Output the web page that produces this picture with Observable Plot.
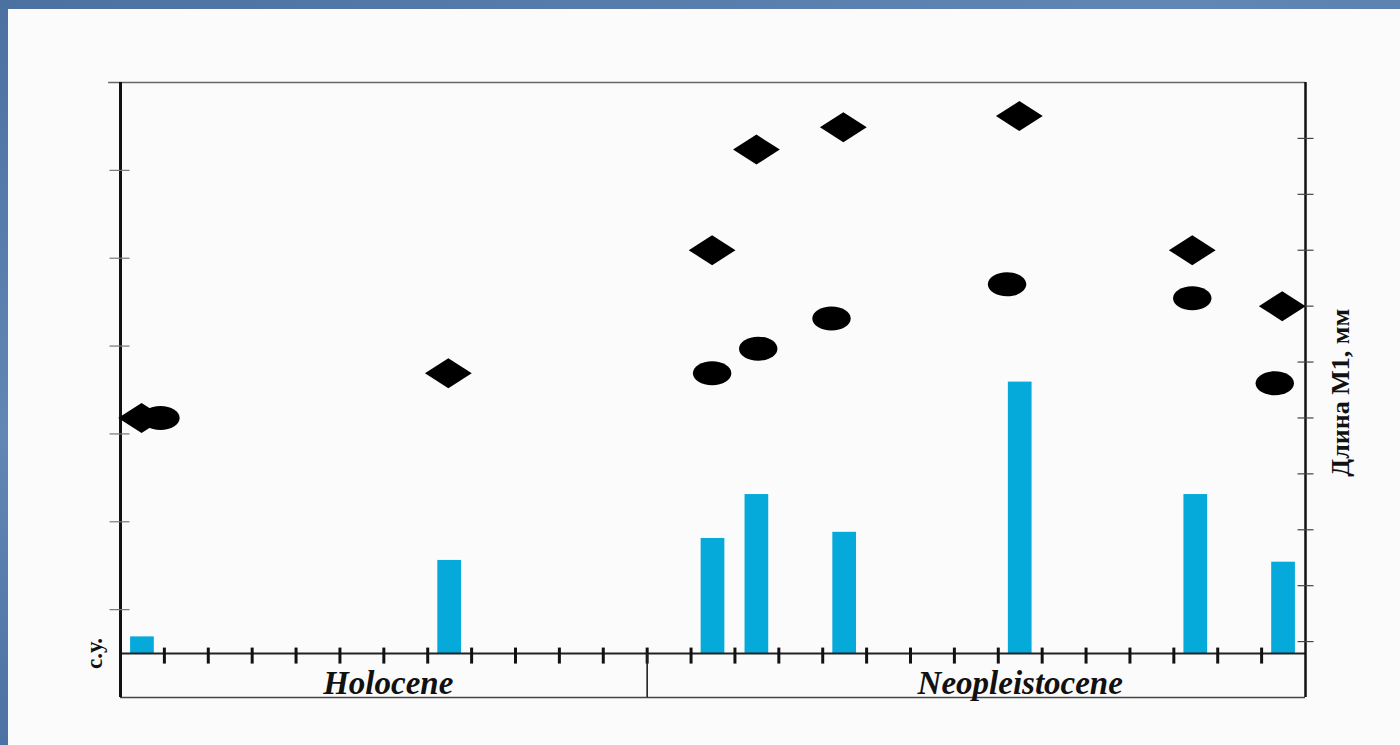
<!DOCTYPE html>
<html>
<head>
<meta charset="utf-8">
<script src="https://cdn.jsdelivr.net/npm/d3@7"></script>
<script src="https://cdn.jsdelivr.net/npm/@observablehq/plot@0.6"></script>
<style>
  html, body { margin: 0; padding: 0; }
  #slide { position: relative; width: 1400px; height: 745px; overflow: hidden;
    background: linear-gradient(160deg, #4a71a0 0%, #6187b5 35%, #4b72a2 60%, #5a80ae 100%); }
  #paper { position: absolute; left: 8px; top: 9px; width: 1400px; height: 745px; background: #fbfbfb; }
  #slide svg { position: absolute; left: 0; top: 0; }
</style>
</head>
<body>
<div id="slide"><div id="paper"></div></div>
<script>
// ---- data ----
const barX = [0.5, 7.5, 13.5, 14.5, 16.5, 20.5, 24.5, 26.5];
const barValues = [0.19, 1.06, 1.31, 1.81, 1.38, 3.09, 1.81, 1.04];          // left axis "с.у."
const diamondX = [0.48, 7.47, 13.48, 14.49, 16.47, 20.48, 24.42, 26.47];
const diamondValues = [5.0, 5.8, 8.0, 9.8, 10.2, 10.4, 8.0, 7.0];           // right axis "Длина М1, мм"
const ellipseX = [0.91, 13.48, 14.53, 16.2, 20.2, 24.42, 26.3];
const ellipseValues = [5.0, 5.8, 6.24, 6.78, 7.39, 7.14, 5.62];
const periodNames = ["Holocene", "Neopleistocene"];
const periodLabelX = [6.1, 20.5];
const periodDivider = [12];
const xTicks = d3.range(1, 27);
const leftTicks = [0.5, 1.5, 2.5, 3.5, 4.5, 5.5];
const rightTicks = d3.range(1, 11);
const leftLabel = "с.у.";
const rightLabel = "Длина М1, мм";

// ---- tables built from the arrays ----
const bars = barX.map((x, i) => ({x, v: barValues[i]}));
const diamonds = diamondX.map((x, i) => ({x, v: diamondValues[i]}));
const ellipses = ellipseX.map((x, i) => ({x, v: ellipseValues[i]}));
const periods = periodNames.map((name, i) => ({name, x: periodLabelX[i]}));

// ---- custom symbols ----
const wideDiamond = {draw(ctx, size) {
  const r = Math.sqrt(size / Math.PI), w = r * 1.95, h = r * 1.25;
  ctx.moveTo(-w, 0); ctx.lineTo(0, -h); ctx.lineTo(w, 0); ctx.lineTo(0, h); ctx.closePath();
}};
const ellipse = {draw(ctx, size) {
  const r = Math.sqrt(size / Math.PI), rx = r * 1.6, ry = r, k = 0.5523;
  ctx.moveTo(rx, 0);
  ctx.bezierCurveTo(rx, ry * k, rx * k, ry, 0, ry);
  ctx.bezierCurveTo(-rx * k, ry, -rx, ry * k, -rx, 0);
  ctx.bezierCurveTo(-rx, -ry * k, -rx * k, -ry, 0, -ry);
  ctx.bezierCurveTo(rx * k, -ry, rx, -ry * k, rx, 0);
  ctx.closePath();
}};
const hLine = {draw(ctx, size) { const r = Math.sqrt(size / Math.PI); ctx.moveTo(-r, 0); ctx.lineTo(r, 0); }};
const vLine = {draw(ctx, size) { const r = Math.sqrt(size / Math.PI); ctx.moveTo(0, -r); ctx.lineTo(0, r); }};

const common = {
  width: 1400, height: 745,
  marginLeft: 120, marginRight: 95, marginTop: 82, marginBottom: 48,
  x: {domain: [0, 27], axis: null},
  style: {background: "transparent", overflow: "visible"}
};
const serif = "'Liberation Serif', 'DejaVu Serif', serif";

// ---- plot 1: bars, left axis, time axis ----
const p1 = Plot.plot({
  ...common,
  y: {domain: [-0.5, 6.5], axis: null},
  marks: [
    Plot.rect(bars, {x1: d => d.x - 0.27, x2: d => d.x + 0.27, y1: 0, y2: "v", fill: "#05a9da"}),
    // top frame line
    Plot.ruleY([6.5], {x1: -0.27, x2: 27, stroke: "#666", strokeWidth: 1.6}),
    // bottom band line
    Plot.ruleY([-0.5], {x1: 0, x2: 27, stroke: "#444", strokeWidth: 1.6}),
    // time axis baseline
    Plot.ruleY([0], {x1: 0, x2: 27, stroke: "#222", strokeWidth: 2}),
    Plot.dot(xTicks, {x: d => d, y: 0, symbol: vLine, r: 8, dy: 2, stroke: "#111", strokeWidth: 3, fill: "none"}),
    // period divider
    Plot.ruleX(periodDivider, {y1: -0.5, y2: 0, stroke: "#222", strokeWidth: 1.6}),
    // left axis
    Plot.ruleX([0], {y1: -0.5, y2: 6.5, stroke: "#111", strokeWidth: 3}),
    Plot.dot(leftTicks, {x: 0, y: d => d, symbol: hLine, r: 10, dx: -1, stroke: "#777", strokeWidth: 1.2, fill: "none"}),
    Plot.text([leftLabel], {frameAnchor: "left", textAnchor: "middle", y: 0, dx: -26, rotate: -90, text: d => d,
      fontSize: 23, fontWeight: "bold", fontFamily: serif, fill: "#111"}),
    Plot.text(periods, {x: "x", y: -0.34, text: "name", fontSize: 33, fontWeight: "bold",
      fontStyle: "italic", fontFamily: serif, fill: "#111", style: "letter-spacing:1px"})
  ]
});

// ---- plot 2: points, right axis ----
const p2 = Plot.plot({
  ...common,
  y: {domain: [0, 11], axis: null},
  marks: [
    Plot.ruleX([27], {y1: 0, y2: 11, stroke: "#111", strokeWidth: 2.5}),
    Plot.dot(rightTicks, {x: 27, y: d => d, symbol: hLine, r: 8, stroke: "#444", strokeWidth: 1.2, fill: "none"}),
    Plot.text([rightLabel], {frameAnchor: "right", textAnchor: "middle", y: 5.45, dx: 35, rotate: -90, text: d => d,
      fontSize: 26, fontWeight: "bold", fontFamily: serif, fill: "#111"}),
    Plot.dot(diamonds, {x: "x", y: "v", symbol: wideDiamond, r: 12, fill: "#000"}),
    Plot.dot(ellipses, {x: "x", y: "v", symbol: ellipse, r: 12, fill: "#000"})
  ]
});

const slide = document.getElementById("slide");
slide.appendChild(p1);
slide.appendChild(p2);
</script>
</body>
</html>
